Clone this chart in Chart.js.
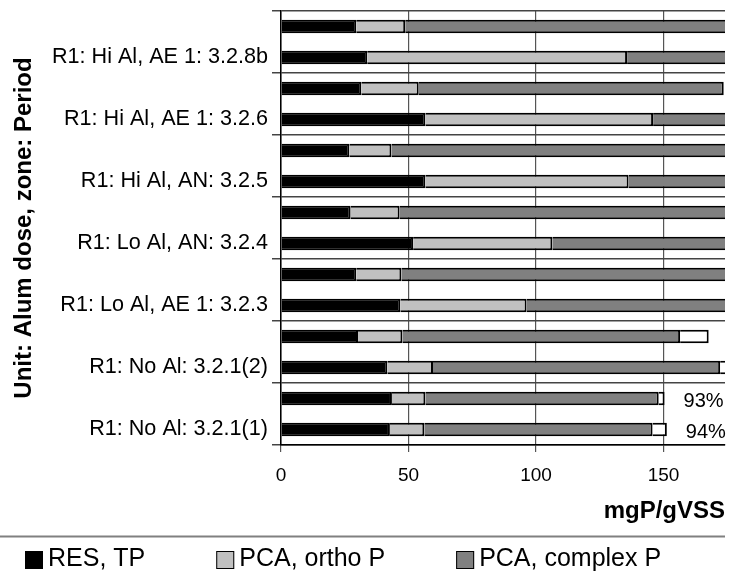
<!DOCTYPE html>
<html>
<head>
<meta charset="utf-8">
<script src="https://cdn.jsdelivr.net/npm/chart.js@4.4.1/dist/chart.umd.min.js"></script>
<style>
  html, body { margin: 0; padding: 0; background: #fff; }
  #wrap { width: 730px; height: 580px; }
</style>
</head>
<body>
<div id="wrap"><canvas id="myChart"></canvas></div>
<script>
const FONT = '"Liberation Sans", Arial, sans-serif';

// two bars per period, label sits on the lower one
const labels = [
  '', 'R1: Hi Al, AE 1: 3.2.8b',
  '', 'R1: Hi Al, AE 1: 3.2.6',
  '', 'R1: Hi Al, AN: 3.2.5',
  '', 'R1: Lo Al, AN: 3.2.4',
  '', 'R1: Lo Al, AE 1: 3.2.3',
  '', 'R1: No Al: 3.2.1(2)',
  '', 'R1: No Al: 3.2.1(1)'
];

const resTP = [29.5, 33.8, 31.5, 56.6, 26.8, 56.6, 27.3, 51.8, 29.5, 46.8, 30.2, 41.7, 43.5, 42.7];
const pcaOrtho = [19.2, 101.9, 22.5, 89.3, 16.5, 79.7, 19.2, 54.6, 17.7, 49.5, 17.4, 17.9, 13.1, 13.5];
const pcaComplex = [140, 60, 119.6, 45, 140, 55, 135, 85, 135, 90, 108.9, 112.6, 91.5, 89.5];
const otherP = [null, null, null, null, null, null, null, null, null, null, 11.2, 6, 2.3, 5.6];
const recovery = ['', '', '', '', '', '', '', '', '', '', '', '', '93%', '94%'];
const xTicks = [0, 50, 100, 150];
const legendCount = 3;

const recoveryLabels = {
  id: 'recoveryLabels',
  afterDatasetsDraw(chart) {
    const ctx = chart.ctx;
    const xs = chart.scales.x;
    const ys = chart.scales.y;
    ctx.save();
    ctx.font = '20px ' + FONT;
    ctx.fillStyle = '#000';
    ctx.textAlign = 'left';
    ctx.textBaseline = 'middle';
    recovery.forEach(function(txt, i) {
      if (!txt) return;
      const total = resTP[i] + pcaOrtho[i] + pcaComplex[i] + (otherP[i] || 0);
      ctx.fillText(txt, xs.getPixelForValue(total) + 19, ys.getPixelForValue(i) + 3);
    });
    ctx.restore();
  }
};

const bottomLegend = {
  id: 'bottomLegend',
  afterDraw(chart) {
    const ctx = chart.ctx;
    ctx.save();
    ctx.strokeStyle = '#808080';
    ctx.lineWidth = 2;
    ctx.beginPath();
    ctx.moveTo(0, 536.5);
    ctx.lineTo(725, 536.5);
    ctx.stroke();

    ctx.font = '25px ' + FONT;
    ctx.textBaseline = 'middle';
    ctx.textAlign = 'left';
    let x = 25;
    chart.data.datasets.slice(0, legendCount).forEach(function(ds) {
      ctx.fillStyle = ds.backgroundColor;
      ctx.fillRect(x, 551, 18, 18);
      ctx.strokeStyle = '#000';
      ctx.lineWidth = 1;
      ctx.strokeRect(x + 0.5, 551.5, 17, 17);
      ctx.fillStyle = '#000';
      ctx.fillText(ds.label, x + 23, 559.5);
      x += 23 + ctx.measureText(ds.label).width + 71;
    });
    ctx.restore();
  }
};

const data = {
  labels: labels,
  datasets: [
    { label: 'RES, TP', data: resTP, backgroundColor: '#000000' },
    { label: 'PCA, ortho P', data: pcaOrtho, backgroundColor: '#c0c0c0' },
    { label: 'PCA, complex P', data: pcaComplex, backgroundColor: '#808080' },
    { label: 'Other P', data: otherP, backgroundColor: '#ffffff' }
  ]
};

const config = {
  type: 'bar',
  data: data,
  options: {
    indexAxis: 'y',
    responsive: true,
    maintainAspectRatio: false,
    animation: false,
    layout: { padding: { top: 11, right: 5, bottom: 0, left: 0 } },
    datasets: {
      bar: { borderColor: '#000', borderWidth: 2, barPercentage: 0.435, categoryPercentage: 1 }
    },
    plugins: {
      legend: { display: false },
      tooltip: { enabled: false }
    },
    scales: {
      x: {
        stacked: true,
        min: 0,
        max: 174.1,
        afterBuildTicks: function(s) { s.ticks = xTicks.map(function(v) { return { value: v }; }); },
        afterFit: function(s) { s.height = 135; s.paddingLeft = 0; s.paddingRight = 0; },
        grid: { color: '#555', lineWidth: 1.2, tickLength: 7 },
        border: { color: '#000', width: 1.5 },
        ticks: { color: '#000', font: { family: FONT, size: 19 }, padding: 12, maxRotation: 0 },
        title: {
          display: true, text: 'mgP/gVSS', align: 'end', color: '#000',
          font: { family: FONT, size: 24, weight: 'bold' },
          padding: { top: 0, bottom: 54 }
        }
      },
      y: {
        stacked: true,
        afterFit: function(s) { s.width = 281; s.paddingTop = 0; s.paddingBottom = 0; },
        grid: {
          offset: true,
          lineWidth: 1.5,
          tickLength: 9,
          color: function(c) {
            return (c.index === undefined || c.index % 2 === 0) ? '#444' : 'rgba(0,0,0,0)';
          }
        },
        border: { color: '#000', width: 1.5 },
        ticks: { autoSkip: false, color: '#000', font: { family: FONT, size: 21.6 }, padding: 4 },
        title: {
          display: true, text: 'Unit: Alum dose, zone: Period', color: '#000',
          font: { family: FONT, size: 24, weight: 'bold' },
          padding: { top: 10, bottom: 0 }
        }
      }
    }
  },
  plugins: [recoveryLabels, bottomLegend]
};

var myChart = new Chart(
  document.getElementById('myChart'),
  config
);
</script>
</body>
</html>
